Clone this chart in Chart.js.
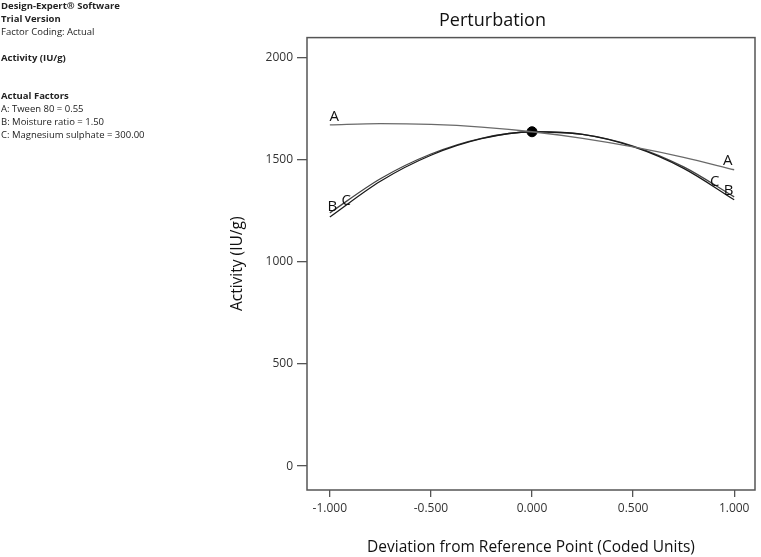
<!DOCTYPE html>
<html>
<head>
<meta charset="utf-8">
<script src="https://cdn.jsdelivr.net/npm/chart.js@4/dist/chart.umd.min.js"></script>
<style>
  html, body { margin: 0; padding: 0; background: #fff; }
  #wrap { position: relative; width: 761px; height: 557px; }
  #info { position: absolute; left: 1px; top: 0px; font-family: "Open Sans", "Noto Sans", sans-serif; font-size: 9.5px; line-height: 12.8px; color: #222; }
  #info b { font-weight: 700; }
  canvas { position: absolute; left: 0; top: 0; }
</style>
</head>
<body>
<div id="wrap">
  <canvas id="c" width="761" height="557"></canvas>
  <div id="info">
    <b>Design-Expert® Software</b><br>
    <b>Trial Version</b><br>
    Factor Coding: Actual<br>
    <div style="height:14px"></div>
    <b>Activity (IU/g)</b><br>
    <div style="height:25px"></div>
    <b>Actual Factors</b><br>
    A: Tween 80 = 0.55<br>
    B: Moisture ratio = 1.50<br>
    C: Magnesium sulphate = 300.00
  </div>
</div>
<script>
// Deviation from reference point (coded units)
const deviation = [-1.0, -0.75, -0.5, -0.25, 0.0, 0.25, 0.5, 0.75, 1.0];
// Activity (IU/g) for each factor's perturbation curve
const factorA = [1671, 1677, 1673, 1660, 1637, 1605, 1563, 1512, 1451];
const factorB = [1220, 1395, 1522, 1603, 1637, 1624, 1564, 1458, 1304];
const factorC = [1240, 1407, 1528, 1605, 1637, 1624, 1567, 1465, 1318];
const referencePoint = { x: 0.0, y: 1637 };
const xTickValues = [-1.0, -0.5, 0.0, 0.5, 1.0];
const yTickValues = [0, 500, 1000, 1500, 2000];
// curve labels: [text, x, y]
const curveLabels = [
  ['A', -0.978, 1711], ['A', 0.968, 1496],
  ['B', -0.988, 1271], ['C', -0.919, 1301],
  ['C', 0.904, 1394], ['B', 0.973, 1350]
];

const toPts = arr => arr.map((v, i) => ({ x: deviation[i], y: v }));

const framePlugin = {
  id: 'frame',
  afterDatasetsDraw(chart) {
    const { ctx, chartArea: a, scales } = chart;
    ctx.save();
    ctx.strokeStyle = '#555';
    ctx.lineWidth = 1.5;
    ctx.strokeRect(a.left, a.top, a.right - a.left, a.bottom - a.top);
    ctx.fillStyle = '#111';
    ctx.font = '15px "Open Sans", "Noto Sans", sans-serif';
    ctx.textAlign = 'center';
    ctx.textBaseline = 'middle';
    curveLabels.forEach(([t, x, y]) => {
      ctx.fillText(t, scales.x.getPixelForValue(x), scales.y.getPixelForValue(y));
    });
    ctx.restore();
  }
};

const fontFam = '"Open Sans", "Noto Sans", sans-serif';

new Chart(document.getElementById('c'), {
  type: 'line',
  data: {
    datasets: [
      { label: 'A', data: toPts(factorA), borderColor: '#6a6a6a', borderWidth: 1.3, pointRadius: 0, cubicInterpolationMode: 'monotone' },
      { label: 'B', data: toPts(factorB), borderColor: '#1a1a1a', borderWidth: 1.3, pointRadius: 0, cubicInterpolationMode: 'monotone' },
      { label: 'C', data: toPts(factorC), borderColor: '#444', borderWidth: 1.3, pointRadius: 0, cubicInterpolationMode: 'monotone' },
      { type: 'scatter', label: 'ref', data: [referencePoint], pointRadius: 5, pointBackgroundColor: '#000', pointBorderColor: '#000' }
    ]
  },
  options: {
    responsive: false,
    animation: false,
    layout: { padding: { left: 226, right: 2, top: 0, bottom: 0 } },
    plugins: {
      legend: { display: false },
      tooltip: { enabled: false },
      title: {
        display: true, text: 'Perturbation', color: '#111',
        font: { family: fontFam, size: 18, weight: 'normal' },
        padding: { top: 10, bottom: 6 }
      }
    },
    scales: {
      x: {
        type: 'linear', min: -1.113, max: 1.103,
        afterBuildTicks: s => { s.ticks = xTickValues.map(v => ({ value: v })); },
        afterFit: s => { s.height = 67; s.paddingLeft = 0; s.paddingRight = 0; },
        ticks: { color: '#333', font: { family: fontFam, size: 12 }, padding: 4, callback: v => v.toFixed(3) },
        grid: { drawOnChartArea: false, drawTicks: true, tickLength: 7, color: '#555', lineWidth: 1.3 },
        border: { display: false },
        title: { display: true, text: 'Deviation from Reference Point (Coded Units)', color: '#111', font: { family: fontFam, size: 15.5 }, padding: { top: 0, bottom: 0 } }
      },
      y: {
        type: 'linear', min: -117, max: 2098,
        afterBuildTicks: s => { s.ticks = yTickValues.map(v => ({ value: v })); },
        afterFit: s => { s.width = 81; s.paddingTop = 0; s.paddingBottom = 0; },
        ticks: { color: '#333', font: { family: fontFam, size: 12 }, padding: 4, callback: v => String(v) },
        grid: { drawOnChartArea: false, drawTicks: true, tickLength: 10, color: '#555', lineWidth: 1.3 },
        border: { display: false },
        title: { display: true, text: 'Activity (IU/g)', color: '#111', font: { family: fontFam, size: 15.5 }, padding: { top: 2, bottom: 0 } }
      }
    }
  },
  plugins: [framePlugin]
});
</script>
</body>
</html>
